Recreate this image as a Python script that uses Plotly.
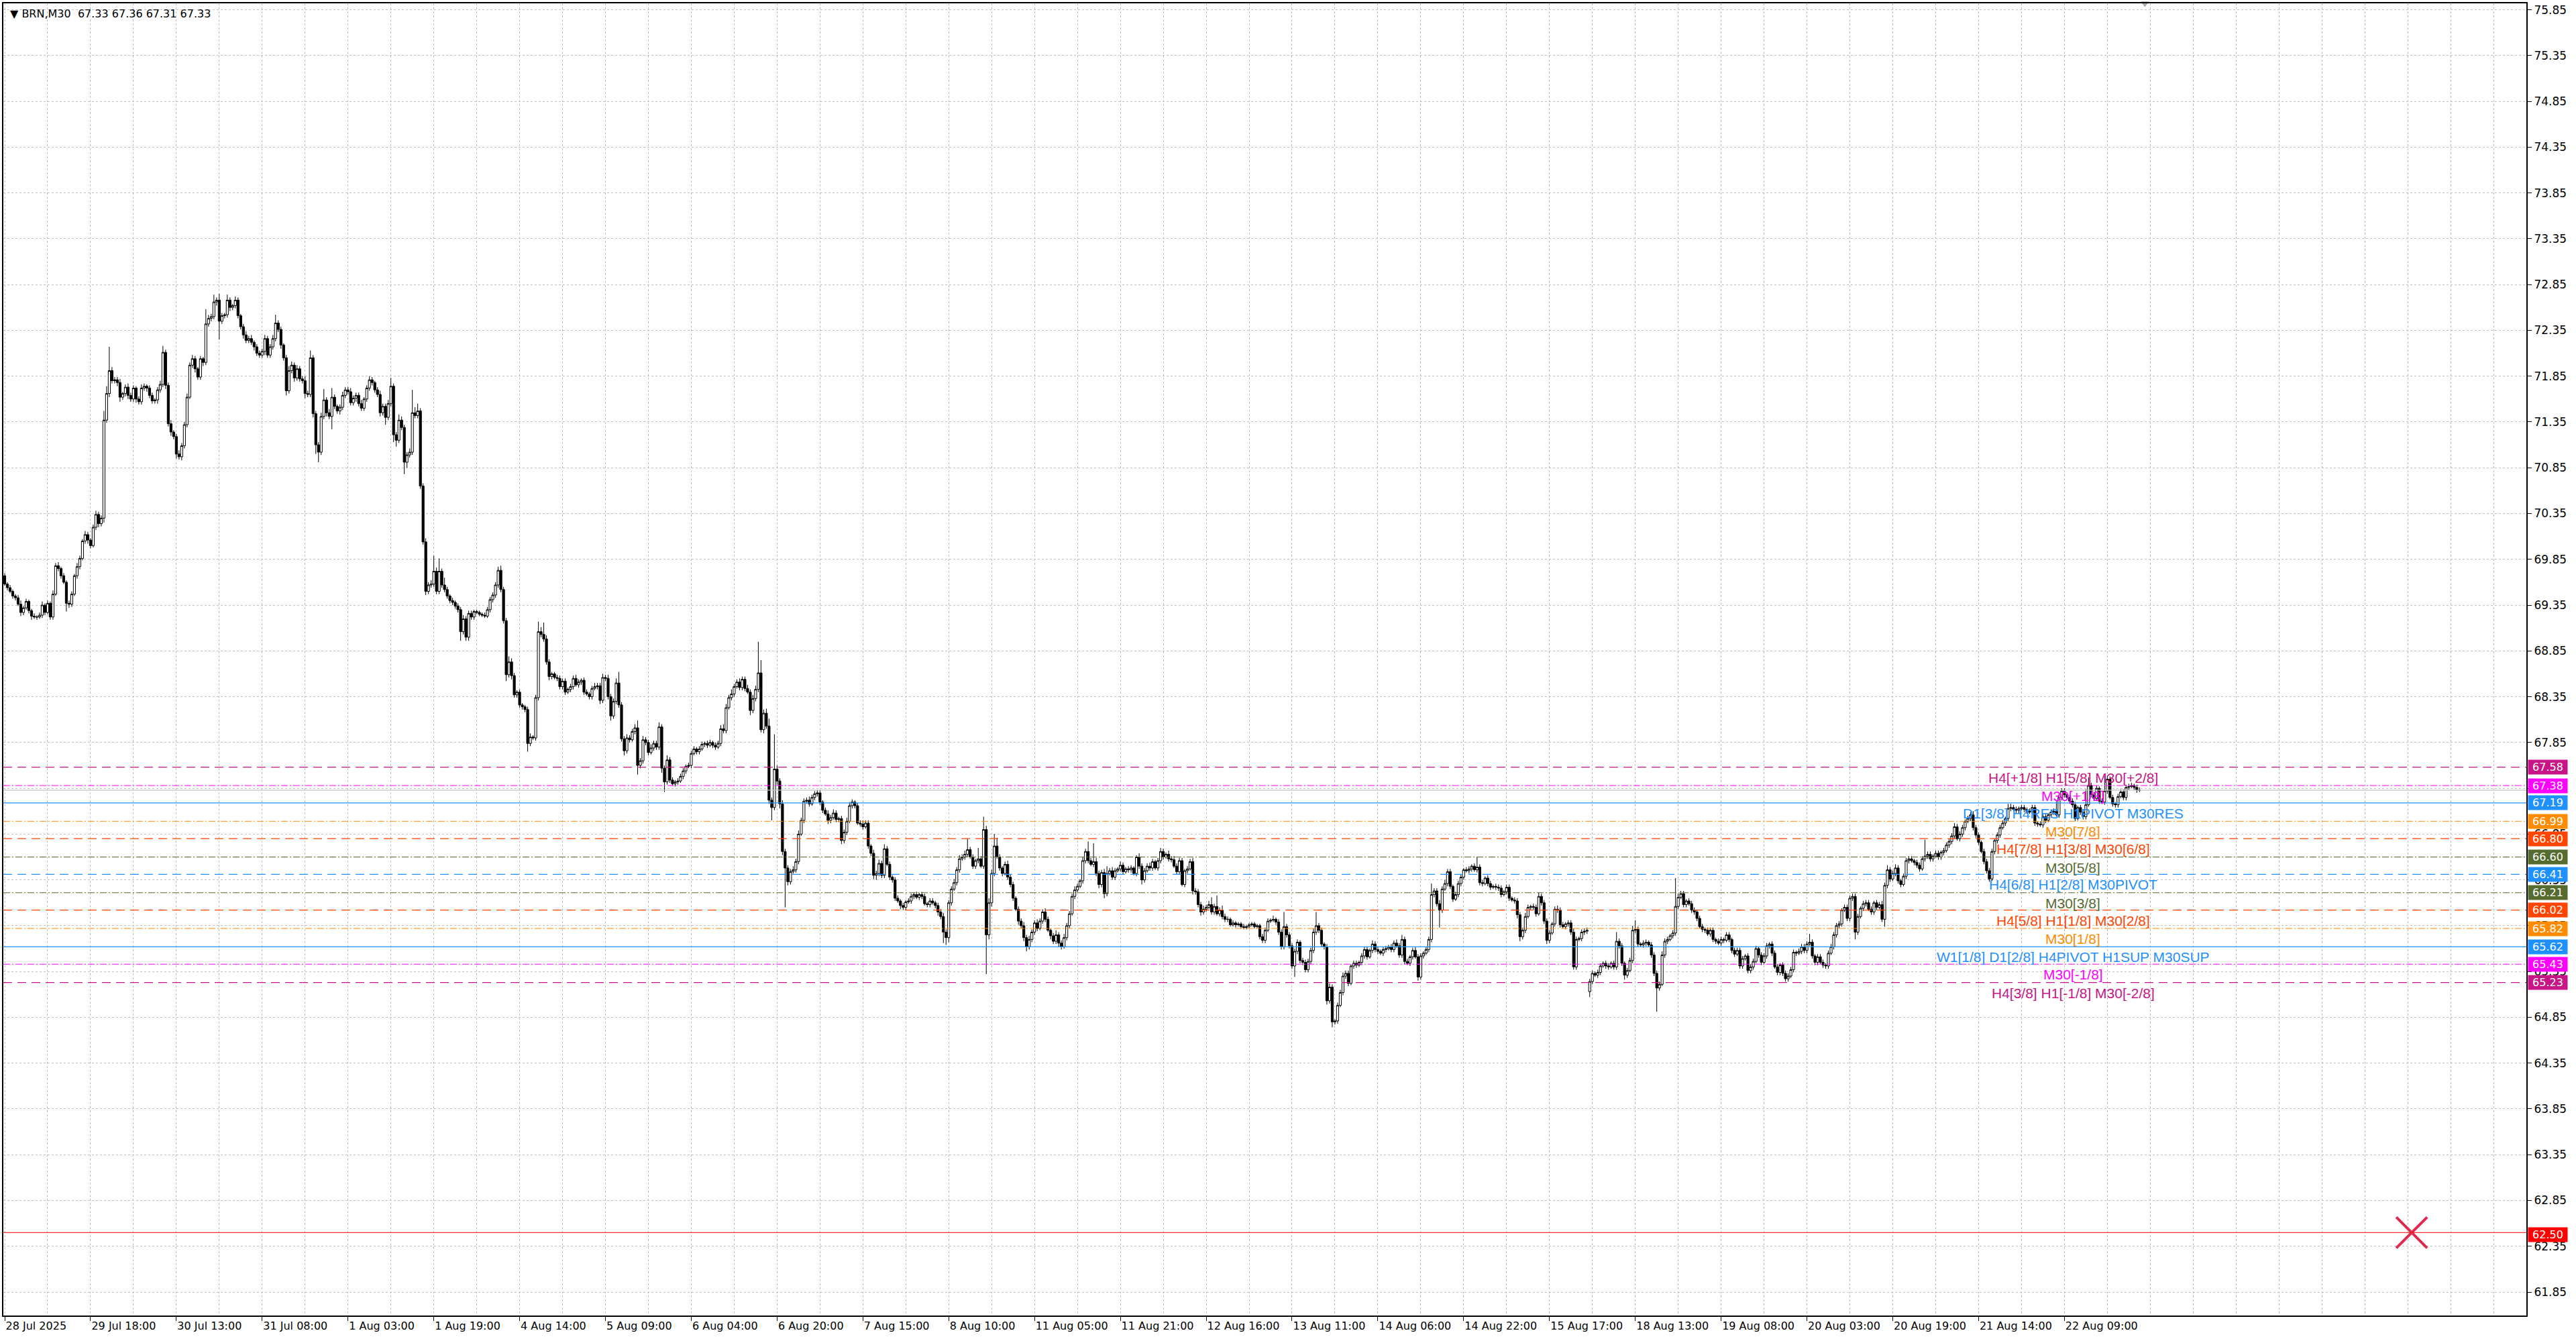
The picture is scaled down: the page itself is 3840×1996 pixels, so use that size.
import plotly.graph_objects as go

# BRN M30 bars, 28 Jul 2025 .. 22 Aug 2025 23:00.
# closes in cents, 16 bars per row
close_cents = [
    6958, 6954, 6950, 6945, 6943, 6936, 6927, 6932, 6939, 6929, 6923, 6922, 6922, 6924, 6935, 6927,
    6937, 6922, 6947, 6978, 6975, 6967, 6960, 6937, 6936, 6947, 6967, 6977, 6986, 7005, 7012, 7006,
    7000, 7020, 7034, 7024, 7030, 7137, 7166, 7191, 7180, 7181, 7178, 7162, 7166, 7173, 7164, 7160,
    7172, 7160, 7157, 7172, 7174, 7172, 7164, 7158, 7159, 7170, 7176, 7211, 7175, 7133, 7124, 7119,
    7100, 7097, 7109, 7132, 7162, 7197, 7204, 7193, 7184, 7204, 7200, 7242, 7248, 7250, 7266, 7268,
    7245, 7251, 7252, 7268, 7260, 7262, 7268, 7251, 7239, 7230, 7224, 7226, 7222, 7217, 7210, 7208,
    7212, 7226, 7208, 7217, 7226, 7243, 7236, 7219, 7205, 7169, 7191, 7197, 7183, 7193, 7182, 7180,
    7166, 7165, 7205, 7144, 7110, 7102, 7141, 7159, 7145, 7141, 7162, 7152, 7147, 7151, 7164, 7170,
    7168, 7156, 7161, 7164, 7155, 7150, 7160, 7172, 7181, 7178, 7170, 7165, 7145, 7152, 7140, 7155,
    7174, 7121, 7115, 7137, 7129, 7091, 7099, 7102, 7145, 7142, 7147, 7065, 7004, 6950, 6957, 6958,
    6972, 6950, 6972, 6957, 6952, 6945, 6940, 6938, 6934, 6930, 6906, 6920, 6900, 6926, 6922, 6928,
    6927, 6925, 6924, 6923, 6930, 6941, 6946, 6957, 6973, 6952, 6918, 6859, 6873, 6858, 6837, 6840,
    6826, 6824, 6821, 6784, 6791, 6790, 6834, 6906, 6903, 6898, 6873, 6857, 6860, 6856, 6855, 6846,
    6852, 6840, 6843, 6846, 6855, 6848, 6851, 6853, 6840, 6838, 6835, 6844, 6846, 6847, 6831, 6856,
    6855, 6835, 6814, 6830, 6850, 6826, 6789, 6776, 6790, 6788, 6797, 6801, 6760, 6765, 6788, 6785,
    6774, 6779, 6784, 6780, 6802, 6757, 6742, 6766, 6744, 6740, 6742, 6743, 6748, 6754, 6759, 6760,
    6773, 6778, 6775, 6778, 6783, 6784, 6782, 6785, 6782, 6780, 6784, 6800, 6798, 6823, 6834, 6838,
    6846, 6851, 6845, 6854, 6844, 6840, 6820, 6833, 6843, 6861, 6799, 6817, 6803, 6722, 6714, 6756,
    6743, 6718, 6666, 6648, 6633, 6644, 6646, 6655, 6685, 6700, 6721, 6722, 6718, 6725, 6729, 6730,
    6720, 6711, 6707, 6700, 6703, 6708, 6701, 6702, 6678, 6687, 6699, 6716, 6720, 6716, 6697, 6696,
    6693, 6697, 6672, 6664, 6640, 6642, 6653, 6640, 6669, 6652, 6638, 6635, 6615, 6612, 6607, 6605,
    6611, 6612, 6617, 6619, 6616, 6619, 6617, 6609, 6608, 6612, 6610, 6607, 6600, 6595, 6578, 6572,
    6610, 6625, 6632, 6646, 6658, 6660, 6663, 6668, 6660, 6650, 6656, 6658, 6650, 6690, 6575, 6610,
    6642, 6672, 6660, 6648, 6642, 6652, 6638, 6630, 6615, 6603, 6590, 6585, 6572, 6562, 6570, 6578,
    6588, 6582, 6590, 6600, 6592, 6580, 6574, 6568, 6575, 6566, 6562, 6572, 6585, 6598, 6617, 6624,
    6628, 6634, 6656, 6666, 6656, 6652, 6655, 6642, 6630, 6643, 6620, 6642, 6645, 6638, 6645, 6647,
    6651, 6644, 6647, 6646, 6648, 6642, 6660, 6650, 6635, 6645, 6650, 6648, 6655, 6648, 6656, 6666,
    6660, 6663, 6658, 6657, 6650, 6644, 6656, 6630, 6645, 6647, 6655, 6623, 6622, 6608, 6600, 6603,
    6605, 6608, 6600, 6606, 6598, 6602, 6595, 6592, 6592, 6586, 6588, 6586, 6587, 6584, 6583, 6584,
    6586, 6587, 6584, 6585, 6573, 6569, 6580, 6590, 6591, 6592, 6589, 6578, 6562, 6584, 6575, 6563,
    6541, 6557, 6567, 6547, 6545, 6537, 6546, 6558, 6578, 6585, 6580, 6565, 6562, 6503, 6518, 6480,
    6481, 6498, 6512, 6530, 6533, 6522, 6541, 6544, 6542, 6545, 6552, 6559, 6551, 6558, 6565, 6559,
    6557, 6555, 6559, 6560, 6562, 6559, 6566, 6563, 6553, 6570, 6546, 6544, 6551, 6558, 6551, 6529,
    6552, 6555, 6559, 6570, 6619, 6623, 6609, 6602, 6625, 6631, 6644, 6628, 6614, 6619, 6631, 6638,
    6646, 6645, 6647, 6650, 6646, 6649, 6632, 6631, 6637, 6631, 6627, 6628, 6627, 6626, 6619, 6622,
    6627, 6615, 6613, 6612, 6597, 6573, 6580, 6595, 6605, 6606, 6605, 6598, 6617, 6610, 6590, 6569,
    6577, 6587, 6603, 6602, 6586, 6584, 6587, 6588, 6578, 6540, 6570, 6571, 6578, 6579, 6580, 6524,
    6533, 6531, 6534, 6541, 6544, 6541, 6540, 6544, 6540, 6568, 6563, 6544, 6531, 6536, 6547, 6580,
    6581, 6565, 6564, 6566, 6567, 6564, 6553, 6533, 6517, 6521, 6553, 6568, 6570, 6574, 6577, 6606,
    6616, 6620, 6608, 6612, 6609, 6602, 6600, 6593, 6584, 6581, 6580, 6576, 6580, 6570, 6568, 6566,
    6570, 6569, 6575, 6570, 6558, 6554, 6558, 6541, 6549, 6552, 6536, 6540, 6546, 6560, 6553, 6545,
    6552, 6563, 6565, 6555, 6540, 6534, 6542, 6533, 6527, 6530, 6537, 6556, 6555, 6557, 6562, 6558,
    6565, 6567, 6552, 6545, 6551, 6545, 6542, 6541, 6555, 6562, 6575, 6585, 6587, 6602, 6605, 6593,
    6615, 6617, 6578, 6595, 6604, 6609, 6610, 6603, 6600, 6610, 6605, 6608, 6592, 6629, 6646, 6636,
    6642, 6648, 6634, 6630, 6639, 6656, 6658, 6656, 6654, 6651, 6647, 6658, 6661, 6663, 6658, 6661,
    6664, 6660, 6665, 6667, 6673, 6677, 6683, 6693, 6680, 6685, 6692, 6699, 6702, 6706, 6692, 6684,
    6676, 6666, 6655, 6645, 6636, 6666, 6678, 6684, 6692, 6697, 6702, 6713, 6714, 6712, 6711, 6713,
    6714, 6712, 6710, 6709, 6714, 6697, 6696, 6695, 6704, 6700, 6706, 6709, 6710, 6706, 6725, 6732,
    6728, 6725, 6721, 6717, 6702, 6714, 6709, 6704, 6717, 6738, 6728, 6724, 6735, 6721, 6720, 6732,
    6745, 6725, 6718, 6717, 6726, 6731, 6725, 6736, 6737, 6738, 6736, 6733, 6733,
]

# upper shadow above the body, cents
up_wick = [
    3, 2, 3, 2, 2, 3, 4, 2, 3, 2, 2, 3, 2, 3, 4, 2,
    3, 2, 4, 3, 4, 2, 3, 2, 3, 3, 2, 4, 3, 2, 4, 3,
    2, 3, 4, 3, 3, 10, 8, 26, 4, 3, 3, 4, 2, 3, 4, 3,
    3, 2, 3, 4, 3, 2, 3, 3, 2, 3, 4, 7, 3, 3, 4, 2,
    3, 4, 3, 3, 4, 3, 4, 3, 2, 3, 2, 16, 4, 3, 8, 3,
    7, 3, 2, 6, 3, 2, 4, 3, 2, 3, 4, 3, 4, 2, 3, 3,
    3, 4, 3, 3, 4, 9, 3, 3, 2, 3, 5, 4, 3, 4, 3, 3,
    5, 3, 8, 3, 3, 3, 4, 12, 3, 4, 10, 3, 2, 3, 4, 3,
    3, 4, 3, 3, 3, 4, 2, 3, 4, 3, 2, 3, 4, 3, 3, 4,
    9, 3, 3, 6, 4, 3, 3, 4, 25, 6, 8, 3, 3, 4, 3, 4,
    17, 4, 14, 3, 8, 3, 2, 3, 2, 3, 3, 4, 3, 3, 3, 2,
    2, 2, 2, 3, 3, 3, 3, 3, 4, 5, 3, 3, 6, 4, 3, 2,
    3, 2, 2, 3, 4, 2, 3, 11, 5, 13, 4, 3, 2, 2, 3, 3,
    3, 3, 2, 3, 3, 4, 3, 2, 3, 3, 2, 3, 4, 3, 3, 4,
    3, 4, 3, 3, 5, 12, 3, 3, 4, 3, 3, 4, 8, 3, 4, 3,
    3, 4, 3, 3, 5, 3, 3, 5, 3, 3, 2, 3, 3, 3, 2, 3,
    3, 3, 2, 3, 3, 2, 3, 3, 2, 3, 3, 4, 5, 4, 3, 5,
    3, 3, 4, 3, 3, 4, 3, 4, 4, 34, 14, 4, 5, 8, 3, 38,
    4, 3, 4, 3, 3, 3, 4, 3, 4, 3, 3, 3, 4, 3, 3, 3,
    3, 2, 3, 4, 3, 4, 3, 2, 3, 3, 4, 4, 3, 2, 3, 3,
    4, 3, 3, 2, 4, 3, 4, 3, 5, 3, 3, 2, 3, 3, 2, 3,
    2, 3, 3, 2, 3, 2, 3, 3, 2, 3, 3, 2, 3, 3, 4, 3,
    3, 3, 4, 3, 4, 3, 4, 12, 3, 3, 2, 12, 3, 14, 4, 5,
    4, 13, 9, 3, 2, 3, 4, 3, 3, 2, 3, 3, 4, 3, 4, 3,
    3, 4, 3, 3, 4, 3, 2, 3, 5, 3, 3, 4, 3, 3, 3, 4,
    3, 2, 4, 3, 11, 3, 20, 4, 3, 3, 4, 8, 3, 4, 3, 2,
    4, 3, 2, 3, 3, 2, 2, 4, 3, 3, 3, 4, 3, 2, 3, 4,
    3, 2, 4, 3, 4, 3, 3, 3, 2, 3, 3, 4, 3, 3, 3, 4,
    3, 4, 8, 3, 12, 3, 5, 3, 3, 2, 3, 2, 2, 2, 3, 2,
    2, 2, 2, 2, 2, 3, 3, 3, 2, 4, 2, 3, 3, 16, 3, 3,
    3, 3, 3, 2, 3, 3, 3, 3, 4, 15, 3, 3, 2, 3, 4, 3,
    2, 3, 3, 4, 3, 3, 2, 3, 3, 2, 3, 3, 3, 2, 4, 3,
    3, 2, 3, 3, 2, 3, 3, 4, 3, 5, 3, 3, 2, 3, 4, 3,
    3, 2, 3, 3, 12, 3, 3, 4, 3, 4, 3, 3, 2, 3, 3, 3,
    2, 3, 3, 2, 3, 11, 3, 3, 2, 3, 3, 2, 3, 3, 3, 2,
    3, 3, 2, 3, 3, 3, 3, 4, 3, 2, 3, 3, 4, 3, 3, 3,
    3, 2, 3, 4, 3, 3, 2, 3, 3, 4, 3, 2, 3, 3, 3, 3,
    3, 2, 3, 3, 2, 3, 3, 2, 3, 10, 3, 3, 2, 3, 3, 5,
    10, 3, 2, 3, 3, 2, 3, 3, 3, 3, 4, 3, 3, 2, 3, 31,
    4, 3, 3, 2, 3, 3, 3, 2, 3, 3, 2, 3, 3, 3, 2, 3,
    3, 2, 3, 3, 2, 3, 3, 3, 3, 2, 3, 3, 3, 3, 2, 3,
    3, 3, 2, 3, 3, 3, 2, 3, 3, 3, 3, 3, 2, 3, 3, 3,
    3, 9, 3, 2, 3, 3, 3, 2, 3, 3, 3, 3, 3, 2, 3, 3,
    3, 3, 3, 3, 2, 3, 3, 3, 3, 2, 3, 3, 4, 3, 5, 3,
    3, 4, 3, 2, 3, 3, 3, 3, 2, 3, 3, 3, 18, 3, 3, 2,
    3, 3, 2, 3, 3, 3, 3, 4, 3, 3, 3, 2, 3, 3, 4, 3,
    3, 2, 3, 3, 3, 3, 2, 3, 3, 3, 2, 5, 4, 3, 3, 2,
    3, 3, 2, 3, 3, 3, 2, 3, 3, 3, 2, 3, 3, 11, 3, 3,
    3, 2, 3, 3, 3, 2, 3, 3, 17, 9, 3, 3, 3, 2, 3, 16,
    4, 3, 3, 2, 3, 3, 3, 2, 3, 3, 2, 3, 3,
]

# lower shadow below the body, cents
down_wick = [
    2, 3, 2, 3, 3, 2, 4, 3, 2, 3, 4, 2, 3, 2, 3, 3,
    2, 3, 3, 2, 3, 3, 2, 9, 4, 3, 2, 3, 3, 2, 3, 4,
    3, 2, 3, 4, 3, 5, 3, 4, 3, 3, 4, 5, 3, 3, 4, 3,
    3, 4, 3, 3, 3, 4, 3, 3, 3, 4, 3, 3, 4, 3, 4, 3,
    5, 3, 4, 3, 3, 2, 3, 4, 3, 3, 4, 3, 3, 3, 3, 4,
    20, 3, 3, 3, 4, 3, 3, 3, 3, 4, 3, 3, 3, 4, 3, 3,
    3, 4, 3, 3, 3, 3, 3, 4, 3, 5, 3, 3, 4, 3, 3, 3,
    5, 3, 3, 4, 10, 11, 3, 3, 4, 3, 14, 3, 3, 4, 3, 3,
    3, 3, 3, 4, 3, 3, 3, 3, 3, 3, 3, 3, 4, 3, 8, 3,
    3, 8, 7, 3, 3, 13, 6, 3, 3, 3, 3, 3, 3, 4, 3, 3,
    3, 3, 3, 3, 3, 3, 3, 3, 3, 3, 10, 3, 4, 4, 3, 3,
    2, 2, 2, 2, 2, 3, 3, 3, 3, 3, 3, 7, 3, 4, 3, 3,
    3, 3, 3, 9, 3, 2, 3, 3, 3, 3, 3, 4, 3, 2, 3, 3,
    3, 3, 2, 3, 3, 2, 3, 3, 3, 2, 3, 3, 2, 3, 4, 3,
    3, 3, 5, 3, 3, 3, 3, 5, 3, 3, 2, 3, 10, 3, 3, 3,
    3, 2, 3, 3, 3, 5, 11, 3, 3, 2, 3, 3, 2, 3, 3, 2,
    3, 2, 3, 3, 2, 3, 3, 2, 3, 3, 2, 3, 3, 3, 2, 3,
    3, 2, 3, 3, 3, 2, 5, 3, 3, 3, 3, 4, 3, 4, 14, 3,
    4, 5, 4, 43, 4, 3, 2, 3, 3, 2, 3, 3, 3, 2, 3, 3,
    3, 3, 2, 4, 3, 2, 3, 3, 4, 3, 3, 2, 3, 3, 2, 3,
    3, 2, 3, 3, 4, 5, 3, 3, 3, 2, 3, 3, 3, 2, 4, 3,
    3, 2, 3, 3, 2, 3, 3, 2, 3, 3, 2, 3, 4, 3, 12, 8,
    5, 3, 2, 3, 3, 2, 3, 3, 2, 3, 3, 3, 2, 3, 43, 5,
    4, 3, 2, 3, 3, 2, 3, 3, 3, 2, 4, 3, 4, 5, 3, 3,
    3, 3, 2, 3, 3, 2, 4, 3, 3, 4, 3, 2, 3, 3, 2, 3,
    3, 2, 3, 3, 3, 2, 3, 3, 4, 3, 5, 3, 2, 3, 3, 2,
    3, 3, 2, 3, 3, 2, 3, 3, 5, 3, 2, 3, 3, 2, 3, 3,
    3, 2, 3, 3, 2, 3, 3, 2, 3, 3, 2, 4, 3, 3, 4, 3,
    3, 2, 3, 3, 2, 3, 3, 3, 3, 2, 2, 3, 2, 2, 2, 2,
    2, 2, 2, 2, 3, 3, 3, 2, 2, 2, 3, 3, 3, 3, 3, 3,
    3, 12, 3, 3, 3, 3, 3, 3, 3, 3, 3, 3, 3, 4, 3, 6,
    3, 3, 2, 3, 3, 3, 2, 3, 3, 2, 3, 3, 3, 2, 3, 3,
    3, 2, 3, 3, 2, 3, 3, 2, 3, 3, 3, 2, 3, 3, 2, 4,
    3, 3, 2, 3, 3, 3, 3, 19, 3, 2, 3, 3, 3, 2, 3, 3,
    3, 2, 3, 3, 2, 3, 3, 3, 2, 3, 3, 2, 3, 3, 3, 2,
    3, 3, 2, 3, 4, 5, 3, 3, 2, 3, 3, 3, 2, 3, 3, 4,
    3, 2, 3, 3, 3, 2, 3, 3, 3, 3, 3, 2, 3, 3, 3, 6,
    3, 2, 3, 3, 2, 3, 3, 2, 3, 3, 3, 3, 5, 3, 2, 3,
    3, 3, 2, 3, 3, 2, 3, 3, 26, 3, 2, 3, 3, 2, 3, 3,
    3, 2, 3, 3, 2, 3, 3, 3, 2, 3, 3, 2, 3, 3, 3, 2,
    3, 3, 2, 3, 3, 3, 2, 3, 3, 2, 3, 3, 3, 2, 3, 3,
    2, 3, 3, 3, 2, 3, 3, 3, 3, 3, 2, 3, 3, 2, 3, 3,
    3, 2, 3, 3, 3, 2, 3, 3, 3, 2, 3, 3, 3, 3, 2, 3,
    3, 3, 8, 3, 2, 3, 3, 2, 3, 3, 3, 2, 3, 8, 3, 3,
    2, 3, 3, 3, 2, 3, 3, 2, 3, 3, 3, 2, 3, 3, 3, 3,
    2, 3, 3, 3, 2, 3, 3, 3, 2, 3, 3, 3, 2, 3, 3, 3,
    3, 2, 3, 3, 3, 2, 3, 3, 3, 2, 3, 3, 3, 2, 3, 3,
    2, 3, 3, 2, 3, 3, 3, 2, 3, 3, 2, 3, 3, 2, 3, 3,
    3, 2, 3, 3, 3, 2, 3, 3, 3, 2, 3, 3, 3, 3, 2, 3,
    3, 2, 3, 3, 3, 2, 3, 3, 3, 2, 3, 3, 2,
]

first_open = 69.67
gap_opens = {591: 65.13}  # Monday open after the 15-18 Aug weekend

x_labels = ["28 Jul 2025", "29 Jul 18:00", "30 Jul 13:00", "31 Jul 08:00", "1 Aug 03:00",
            "1 Aug 19:00", "4 Aug 14:00", "5 Aug 09:00", "6 Aug 04:00", "6 Aug 20:00",
            "7 Aug 15:00", "8 Aug 10:00", "11 Aug 05:00", "11 Aug 21:00", "12 Aug 16:00",
            "13 Aug 11:00", "14 Aug 06:00", "14 Aug 22:00", "15 Aug 17:00", "18 Aug 13:00",
            "19 Aug 08:00", "20 Aug 03:00", "20 Aug 19:00", "21 Aug 14:00", "22 Aug 09:00"]
bars_per_label = 32

price_ticks = [61.85 + 0.5 * k for k in range(29)]

# Murrey-math levels drawn by the indicator
level_prices = [67.58, 67.38, 67.19, 66.99, 66.80, 66.60, 66.41, 66.21, 66.02, 65.82, 65.62, 65.43, 65.23]
level_labels = ["H4[+1/8] H1[5/8] M30[+2/8]", "M30[+1/8]", "D1[3/8] H4RES H1PIVOT M30RES",
                "M30[7/8]", "H4[7/8] H1[3/8] M30[6/8]", "M30[5/8]", "H4[6/8] H1[2/8] M30PIVOT",
                "M30[3/8]", "H4[5/8] H1[1/8] M30[2/8]", "M30[1/8]",
                "W1[1/8] D1[2/8] H4PIVOT H1SUP M30SUP", "M30[-1/8]", "H4[3/8] H1[-1/8] M30[-2/8]"]
level_colors = ["#C71585", "#FF00FF", "#1E90FF", "#FF8C00", "#FF4500", "#556B2F", "#1E90FF",
                "#556B2F", "#FF4500", "#FF8C00", "#1E90FF", "#FF00FF", "#C71585"]
DASH = "13px,8px"
DASHDOT = "10px,3px,2px,3px"
level_dash = [DASH, DASHDOT, "solid", DASHDOT, DASH, DASHDOT, DASH,
              DASHDOT, DASH, DASHDOT, "solid", DASHDOT, DASH]

bid_price = 67.33
stop_price = 62.50
cross_bar = 897.5
label_bar = 771.25
shift_bar = 798  # chart-shift marker on the top edge

n = len(close_cents)
assert len(up_wick) == n and len(down_wick) == n, (n, len(up_wick), len(down_wick))

bars = list(range(n))
closes = [c / 100 for c in close_cents]
opens = [first_open] + closes[:-1]
for k, v in gap_opens.items():
    opens[k] = v
highs = [max(o, c) + u / 100 for o, c, u in zip(opens, closes, up_wick)]
lows = [min(o, c) - d / 100 for o, c, d in zip(opens, closes, down_wick)]

y_range = [61.594, 75.92]

fig = go.Figure()

fig.add_trace(go.Candlestick(
    x=bars, open=opens, high=highs, low=lows, close=closes,
    increasing=dict(line=dict(color="black", width=1), fillcolor="white"),
    decreasing=dict(line=dict(color="black", width=1), fillcolor="black"),
    whiskerwidth=0, showlegend=False, hoverinfo="skip",
))

# red cross at the stop level
fig.add_trace(go.Scatter(
    x=[cross_bar], y=[stop_price], mode="markers", showlegend=False, hoverinfo="skip",
    marker=dict(symbol="x-thin", size=46, line=dict(color="#E0284F", width=4)),
))

# small grey shift marker hanging from the top border
fig.add_trace(go.Scatter(
    x=[shift_bar], y=[y_range[1]], mode="markers", showlegend=False, hoverinfo="skip",
    cliponaxis=False,
    marker=dict(symbol="triangle-down", size=11, color="#A8A8A8", line=dict(width=0)),
))

shapes = []
annotations = []
for p, lab, col, dsh in zip(level_prices, level_labels, level_colors, level_dash):
    shapes.append(dict(type="line", xref="paper", x0=0, x1=1, yref="y", y0=p, y1=p,
                       line=dict(color=col, width=1.2, dash=dsh), layer="above"))
    annotations.append(dict(x=label_bar, y=p, xref="x", yref="y", text=lab, showarrow=False,
                            xanchor="center", yanchor="top", yshift=-2,
                            font=dict(family="Liberation Sans, Arial", size=21, color=col)))
    annotations.append(dict(x=1, y=p, xref="paper", yref="y", text=f"{p:.2f}", showarrow=False,
                            xanchor="left", yanchor="middle", xshift=2, width=58, height=21,
                            bgcolor=col, borderpad=0,
                            font=dict(family="DejaVu Sans", size=16, color="white")))

# bid line and stop line
shapes.append(dict(type="line", xref="paper", x0=0, x1=1, yref="y", y0=bid_price, y1=bid_price,
                   line=dict(color="#C0C0C0", width=1.2), layer="above"))
shapes.append(dict(type="line", xref="paper", x0=0, x1=1, yref="y", y0=stop_price, y1=stop_price,
                   line=dict(color="#FF0000", width=1), layer="above"))
annotations.append(dict(x=1, y=stop_price, xref="paper", yref="y", text=f"{stop_price:.2f}",
                        showarrow=False, xanchor="left", yanchor="middle", xshift=2, yshift=-3,
                        width=58, height=21, bgcolor="#FF0000", borderpad=0,
                        font=dict(family="DejaVu Sans", size=16, color="white")))

# symbol header
annotations.append(dict(x=0, y=1, xref="paper", yref="paper", xanchor="left", yanchor="top",
                        xshift=8, yshift=-4, showarrow=False,
                        text="\u25BC BRN,M30  67.33 67.36 67.31 67.33",
                        font=dict(family="DejaVu Sans", size=16, color="black")))

grid = dict(gridcolor="#C0C0C0", griddash="3px,3px", gridwidth=1)

fig.update_layout(
    width=3840, height=1996, autosize=False,
    margin=dict(l=3, r=74, t=4, b=35, pad=0),
    paper_bgcolor="white", plot_bgcolor="white",
    boxgap=0.12, boxgroupgap=0.1,
    shapes=shapes, annotations=annotations,
    xaxis=dict(
        range=[-0.5, 940.25], rangeslider=dict(visible=False),
        tickmode="array",
        tickvals=[i * bars_per_label for i in range(len(x_labels))],
        ticktext=x_labels, ticks="outside", ticklen=6, tickcolor="black",
        ticklabelposition="outside right",
        tickfont=dict(family="DejaVu Sans", size=16, color="black"),
        showgrid=False, zeroline=False,
        showline=True, linecolor="black", linewidth=2, mirror=True,
        minor=dict(tickmode="linear", tick0=16, dtick=16, showgrid=True, ticks="", **grid),
        fixedrange=True,
    ),
    yaxis=dict(
        side="right", range=y_range,
        tickmode="array", tickvals=price_ticks, ticktext=[f"{v:.2f}" for v in price_ticks],
        ticks="outside", ticklen=6, tickcolor="black",
        tickfont=dict(family="DejaVu Sans", size=17, color="black"),
        showgrid=True, zeroline=False, **grid,
        showline=True, linecolor="black", linewidth=2, mirror=True,
        fixedrange=True,
    ),
)

# the page's default 8px body margin would push the chart off the window
fig.write_html("out.html", config={"displayModeBar": False},
               post_script="document.body.style.margin='0';document.body.style.overflow='hidden';")
